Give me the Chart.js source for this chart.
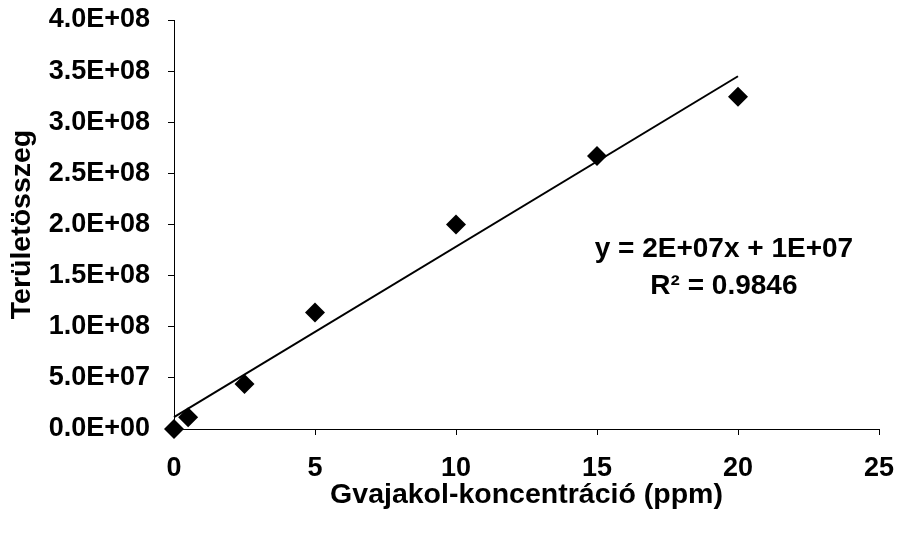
<!DOCTYPE html>
<html>
<head>
<meta charset="utf-8">
<script src="https://cdn.jsdelivr.net/npm/chart.js@4/dist/chart.umd.min.js"></script>
<style>
  body { margin: 0; background: #fff; }
  #chart { display: block; }
</style>
</head>
<body>
<canvas id="chart" width="901" height="536"></canvas>
<script>
'use strict';

// measured points (concentration in ppm, summed peak area)
const concentrations = [0, 0.5, 2.5, 5, 10, 15, 20];
const areas = [0, 1.15e7, 4.4e7, 1.14e8, 2.0e8, 2.67e8, 3.25e8];

// linear trendline, ends
const trendX = [0, 20];
const trendY = [1.17e7, 3.45e8];

// equation label, anchored in data units
const eqLines = ['y = 2E+07x + 1E+07', 'R² = 0.9846'];
const eqX = 19.5;
const eqY = [1.76e8, 1.40e8];

const xTitle = 'Gvajakol-koncentráció (ppm)';
const yTitle = 'Területösszeg';

const FONT = 'Liberation Sans, Arial, sans-serif';
const TICK_SIZE = 27;
const TITLE_SIZE = 28.5;
const EQ_SIZE = 28;

function toPoints(xs, ys) {
    return xs.map((x, i) => ({ x: x, y: ys[i] }));
}

// 4.0E+08 style labels
function sciLabel(value) {
    const parts = Number(value).toExponential(1).split('e');
    const sign = parts[1][0];
    const exp = parts[1].slice(1).padStart(2, '0');
    return parts[0] + 'E' + sign + exp;
}

const equationLabel = {
    id: 'equationLabel',
    afterDatasetsDraw(chart) {
        const ctx = chart.ctx;
        const xs = chart.scales.x;
        const ys = chart.scales.y;
        ctx.save();
        ctx.fillStyle = '#000';
        ctx.font = 'bold ' + EQ_SIZE + 'px ' + FONT;
        ctx.textAlign = 'center';
        ctx.textBaseline = 'middle';
        eqLines.forEach((line, i) => {
            ctx.fillText(line, xs.getPixelForValue(eqX), ys.getPixelForValue(eqY[i]));
        });
        ctx.restore();
    }
};

const ctx = document.getElementById('chart').getContext('2d');
const chart = new Chart(ctx, {
    type: 'scatter',
    data: {
        datasets: [{
            label: 'Területösszeg',
            data: toPoints(concentrations, areas),
            pointStyle: 'rectRot',
            pointRadius: 10,
            pointBackgroundColor: '#000',
            pointBorderWidth: 0,
            showLine: false,
            clip: false
        }, {
            label: 'Lineáris',
            data: toPoints(trendX, trendY),
            showLine: true,
            borderColor: '#000',
            borderWidth: 2,
            pointRadius: 0,
            clip: false
        }]
    },
    options: {
        responsive: false,
        animation: false,
        devicePixelRatio: 1,
        layout: { padding: { top: 20, right: 22, bottom: 0, left: 0 } },
        plugins: {
            legend: { display: false },
            tooltip: { enabled: false }
        },
        scales: {
            x: {
                type: 'linear',
                min: 0,
                max: 25,
                afterFit(scale) {
                    scale.height = 107;
                    scale.paddingLeft = 0;
                    scale.paddingRight = 0;
                },
                border: { color: '#000', width: 1 },
                grid: { drawOnChartArea: false, color: '#000', tickLength: 6 },
                ticks: {
                    stepSize: 5,
                    padding: 17,
                    color: '#000',
                    font: { family: FONT, size: TICK_SIZE, weight: 'bold' }
                },
                title: {
                    display: true,
                    text: xTitle,
                    color: '#000',
                    padding: { top: 0, bottom: 24 },
                    font: { family: FONT, size: TITLE_SIZE, weight: 'bold' }
                }
            },
            y: {
                type: 'linear',
                min: 0,
                max: 4e8,
                afterFit(scale) {
                    scale.width = 174;
                    scale.paddingTop = 0;
                    scale.paddingBottom = 0;
                },
                border: { color: '#000', width: 1 },
                grid: { drawOnChartArea: false, color: '#000', tickLength: 6 },
                ticks: {
                    stepSize: 5e7,
                    padding: 18,
                    color: '#000',
                    callback: sciLabel,
                    font: { family: FONT, size: TICK_SIZE, weight: 'bold' }
                },
                title: {
                    display: true,
                    text: yTitle,
                    color: '#000',
                    padding: { top: 5, bottom: 0 },
                    font: { family: FONT, size: TITLE_SIZE, weight: 'bold' }
                }
            }
        }
    },
    plugins: [equationLabel]
});
</script>
</body>
</html>
